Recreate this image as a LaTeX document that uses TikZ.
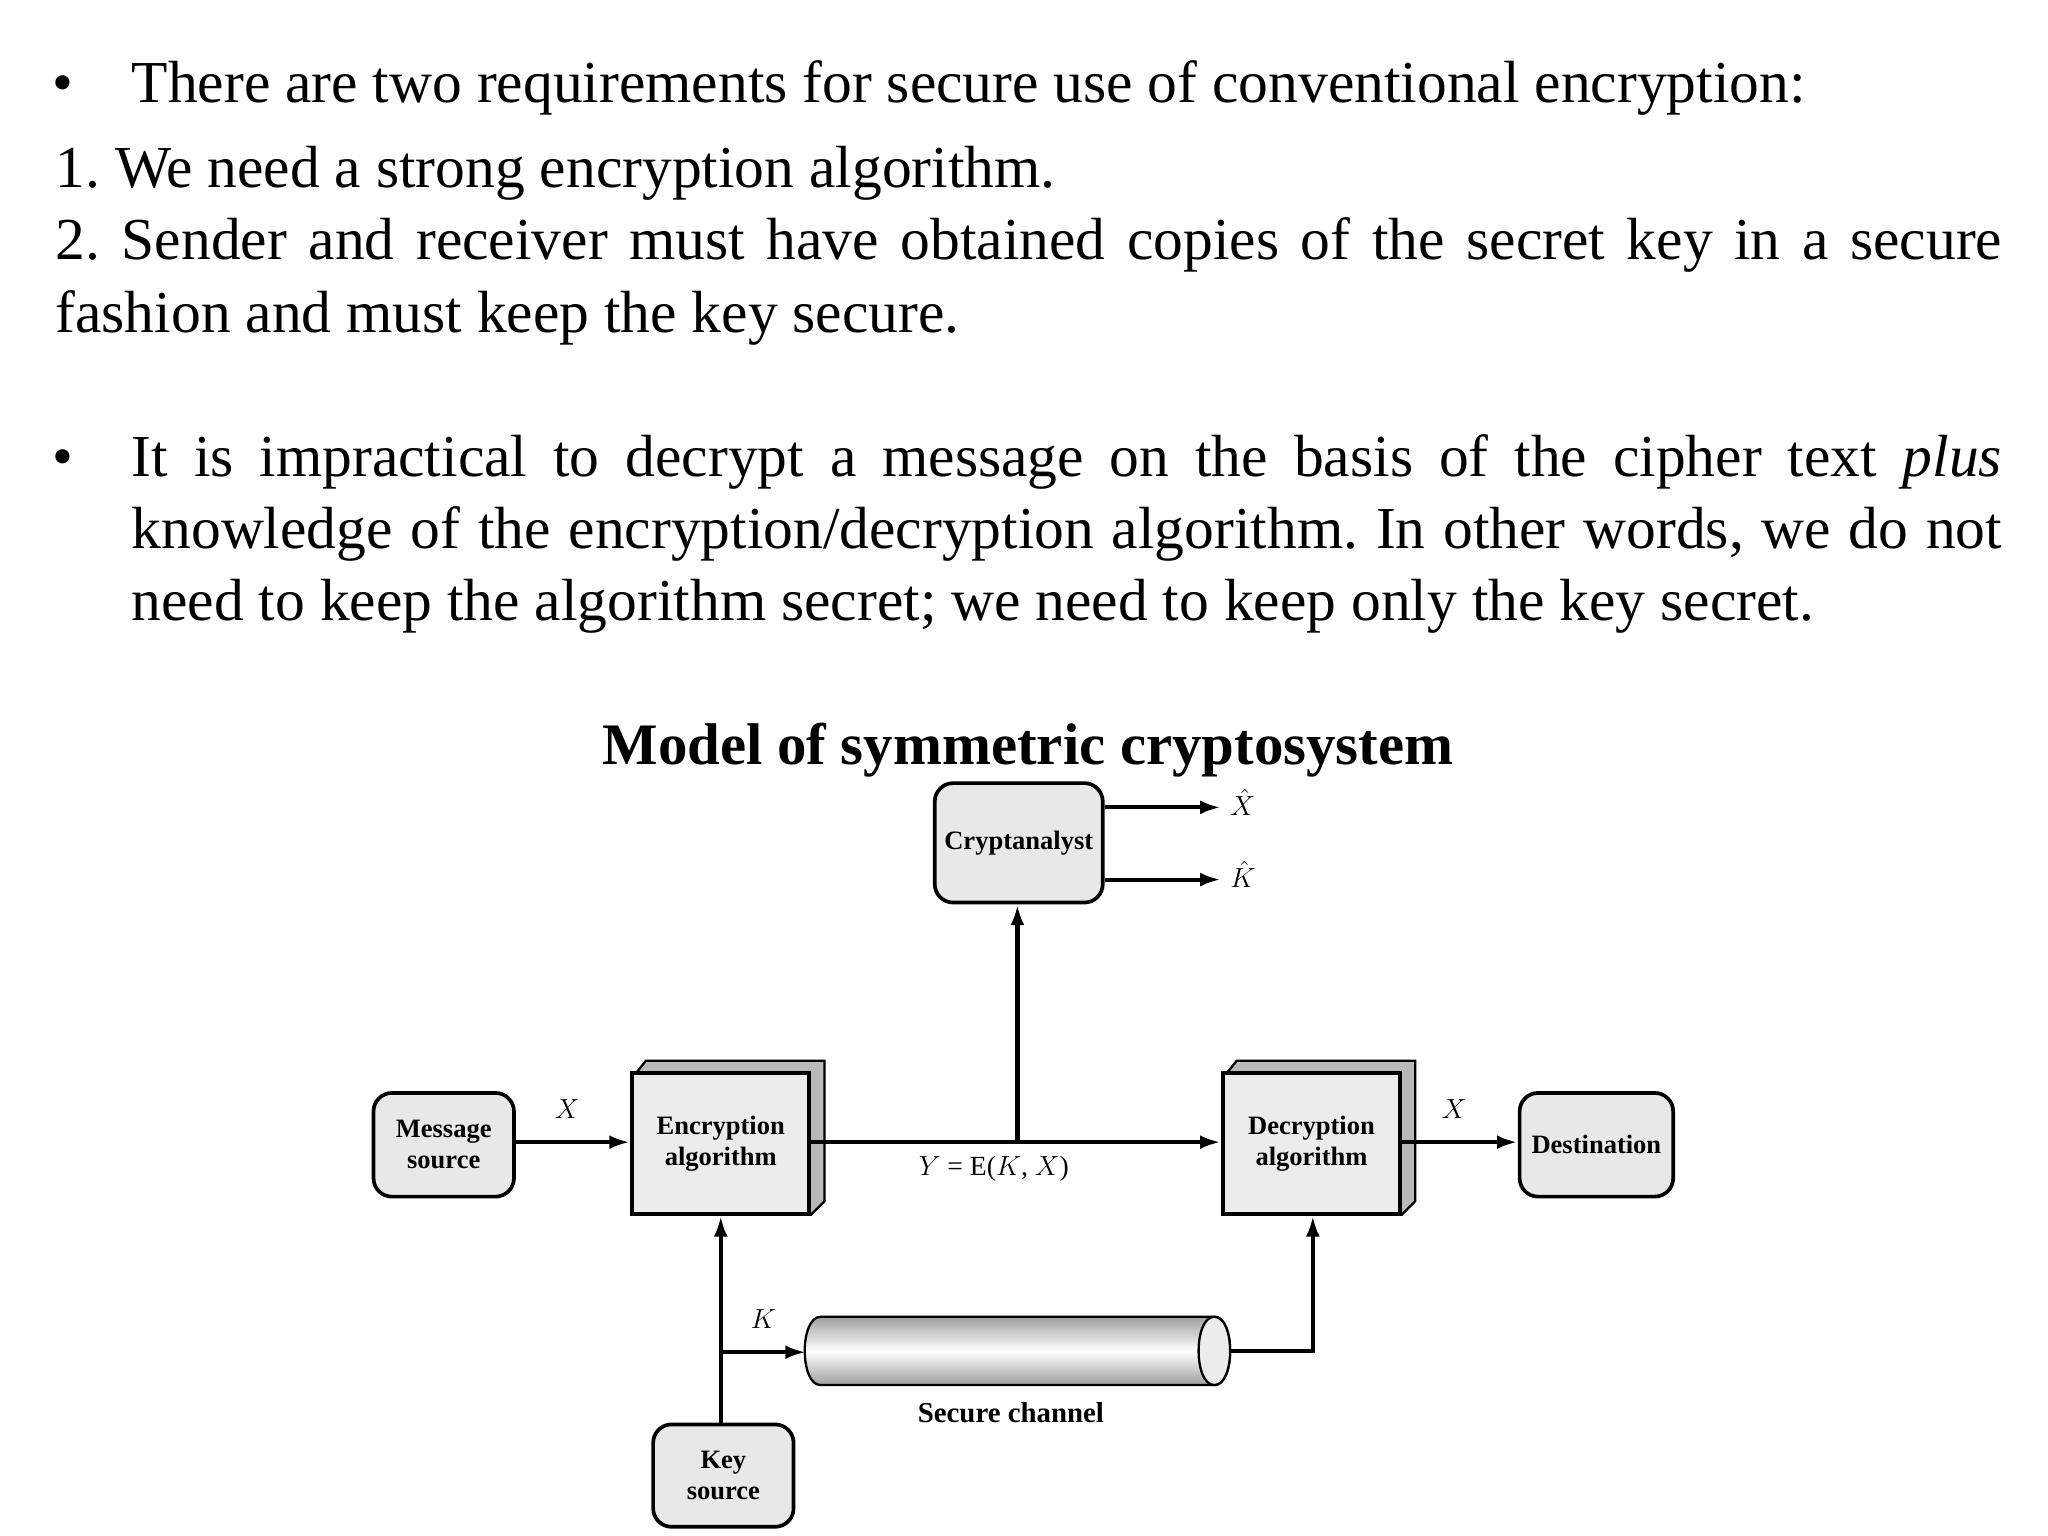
\documentclass[tikz,border=0pt]{standalone}
\usepackage{fontspec}
\setmainfont{Liberation Serif}
\usetikzlibrary{arrows.meta,shapes.geometric}
\begin{document}
\frenchspacing
\begin{tikzpicture}[x=0.02cm,y=-0.02cm,
 body/.style={anchor=base west,inner sep=0,font=\fontsize{25.8}{30}\selectfont},
 rbox/.style={draw,line width=1.6pt,rounded corners=8pt,fill=gray!18,align=center,font=\fontsize{11.5}{13.5}\selectfont\bfseries},
 ebox/.style={draw,line width=1.8pt,fill=gray!15,align=center,font=\fontsize{11.5}{13.5}\selectfont\bfseries},
 lbl/.style={font=\fontsize{12}{14}\selectfont\itshape},
 arr/.style={line width=1.8pt,-{Latex[length=9pt,width=6pt]}},
 ln/.style={line width=1.8pt}]
\useasboundingbox[fill=white] (0,0) rectangle (1560,1170);
% text
\node[body] (b1) at (40,78) {\textbullet};
\node[body] (t1) at (100,78) {There are two requirements for secure use of conventional encryption:};
\node[body] (t2) at (42,143) {1. We need a strong encryption algorithm.};
\node[body] (t3) at (42,198) {\makebox[29.66cm][s]{2. Sender and receiver must have obtained copies of the secret key in a secure}};
\node[body] (t4) at (42,253) {fashion and must keep the key secure.};
\node[body] (b2) at (40,363) {\textbullet};
\node[body] (t5) at (100,363) {\makebox[28.5cm][s]{It is impractical to decrypt a message on the basis of the cipher text \textit{plus}}};
\node[body] (t6) at (100,418) {\makebox[28.5cm][s]{knowledge of the encryption/decryption algorithm. In other words, we do not}};
\node[body] (t7) at (100,473) {need to keep the algorithm secret; we need to keep only the key secret.};
\node[anchor=base,inner sep=0,font=\fontsize{25.5}{30}\selectfont\bfseries] (title) at (783,582) {Model of symmetric cryptosystem};
% boxes
\node[rbox,minimum width=2.56cm,minimum height=1.82cm] (cr) at (776,642) {Cryptanalyst};
\node[rbox,minimum width=2.14cm,minimum height=1.58cm] (ms) at (338,872) {Message\\source};
\node[rbox,minimum width=2.34cm,minimum height=1.58cm] (ds) at (1216,872) {Destination};
\node[rbox,minimum width=2.14cm,minimum height=1.56cm] (ks) at (551,1124) {Key\\source};
% 3D boxes
\foreach \n/\cx/\t in {enc/550/Encryption\\algorithm, dec/1000/Decryption\\algorithm}{
 \fill[gray!55,draw=black,line width=1pt] (\cx-66,818) -- (\cx-58,808) -- (\cx+78,808) -- (\cx+78,915) -- (\cx+68,925) -- cycle;
 \node[ebox,minimum width=2.7cm,minimum height=2.14cm] (\n) at (\cx-1,871) {\t};
}
% connectors
\draw[arr] (ms.east |- 0,870) -- node[lbl,above=6pt,pos=0.45]{$X$} (enc.west |- 0,870);
\draw[arr] (enc.east |- 0,870) -- (dec.west |- 0,870);
\node[font=\fontsize{12}{14}\selectfont] (yl) at (757,890) {$Y$ = E($K$, $X$)};
\coordinate (j) at (775,870);
\draw[arr] (j) -- (cr.south -| j);
\coordinate (xh) at (930,615);
\coordinate (kh) at (930,670);
\draw[arr] (cr.east |- xh) -- (xh);
\draw[arr] (cr.east |- kh) -- (kh);
\node[lbl,anchor=west,inner sep=1pt] (xhl) at (935,611) {$\hat{X}$};
\node[lbl,anchor=west,inner sep=1pt] (khl) at (935,666) {$\hat{K}$};
\draw[arr] (dec.east |- 0,870) -- node[lbl,above=6pt,pos=0.45]{$X$} (ds.west |- 0,870);
% key path
\coordinate (kj) at (549,1030);
\draw[arr] (ks.north -| kj) -- (enc.south -| kj);
% cylinder
\shade[top color=gray!75,bottom color=gray!75,middle color=white,draw=black,line width=1pt]
 (625,1003) -- (925,1003) .. controls (941,1003) and (941,1055) .. (925,1055) -- (625,1055) .. controls (609,1055) and (609,1003) .. (625,1003) -- cycle;
\draw[line width=1pt,fill=gray!15] (925,1003) .. controls (941,1003) and (941,1055) .. (925,1055) .. controls (909,1055) and (909,1003) .. (925,1003) -- cycle;
\coordinate (cyl) at (614,1030);
\coordinate (cyr) at (937,1029);
\draw[arr] (kj) -- node[lbl,above=6pt]{$K$} (cyl);
\draw[arr] (cyr) -- (1000,1029) -- (dec.south -| 1000,0);
\node[font=\fontsize{12.5}{14}\selectfont\bfseries] (sc) at (770,1076) {Secure channel};
\end{tikzpicture}
\end{document}
